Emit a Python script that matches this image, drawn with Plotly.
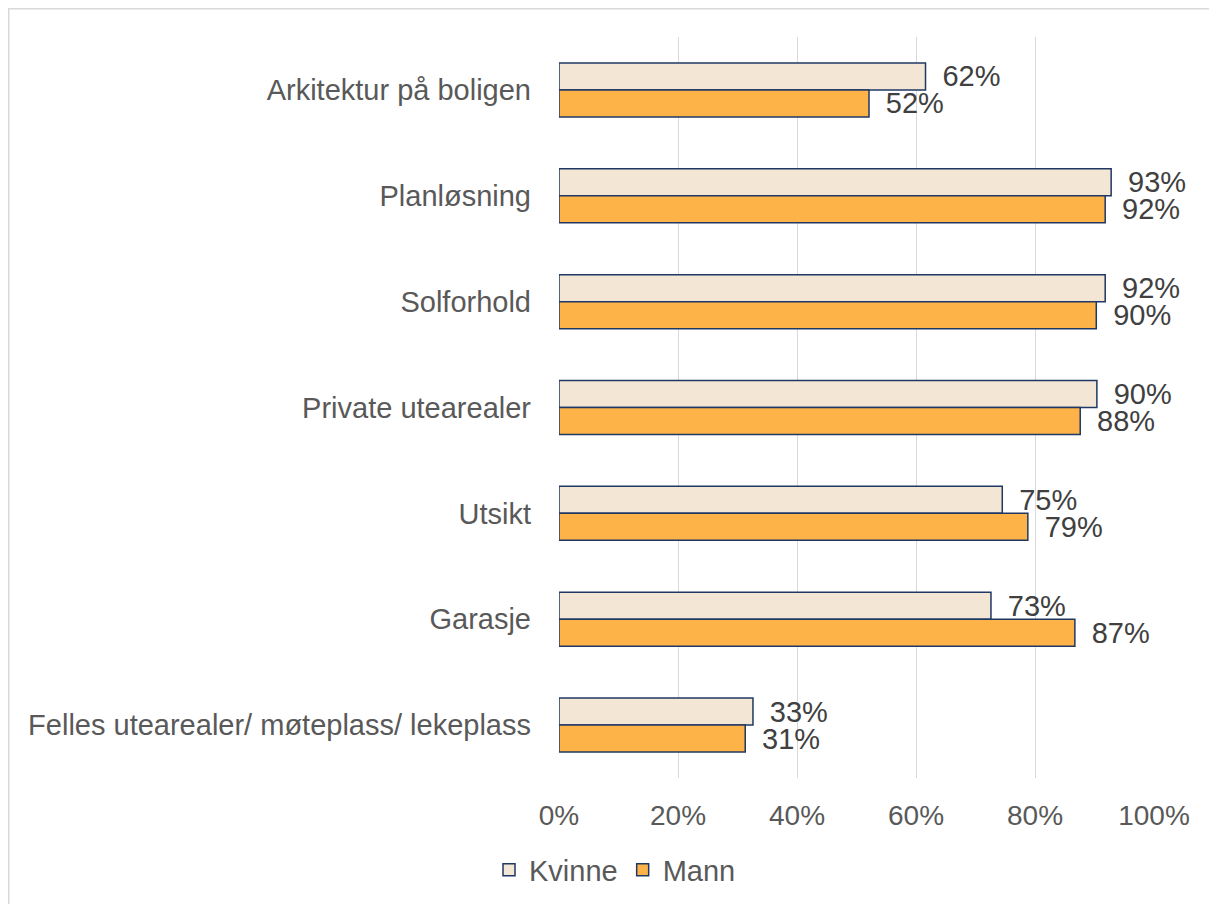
import plotly.graph_objects as go

categories = ["Arkitektur på boligen", "Planløsning", "Solforhold", "Private utearealer",
              "Utsikt", "Garasje", "Felles utearealer/ møteplass/ lekeplass"]
kvinne = [0.616, 0.928, 0.918, 0.904, 0.745, 0.726, 0.326]
mann = [0.521, 0.918, 0.903, 0.876, 0.788, 0.867, 0.313]
kvinne_labels = ["62%", "93%", "92%", "90%", "75%", "73%", "33%"]
mann_labels = ["52%", "92%", "90%", "88%", "79%", "87%", "31%"]
x_ticks = [0, 0.2, 0.4, 0.6, 0.8, 1.0]
x_ticklabels = ["0%", "20%", "40%", "60%", "80%", "100%"]

W, H = 1217, 904
# plot area in figure pixels (page shows figure offset by body margin)
L, R, T, B = 551, 1146, 29, 770

font_family = "Liberation Sans, Arial, sans-serif"
outline = "#1F3864"
pad = " \u2009"

fig = go.Figure()
fig.add_trace(go.Bar(
    name="Kvinne", y=categories, x=kvinne, orientation="h",
    marker=dict(color="#F3E6D4", line=dict(color=outline, width=1.5)),
    text=[pad + t for t in kvinne_labels], textposition="outside",
    constraintext="none",
    textfont=dict(size=29, color="#404040", family=font_family),
    cliponaxis=False, hoverinfo="x+y",
))
fig.add_trace(go.Bar(
    name="Mann", y=categories, x=mann, orientation="h",
    marker=dict(color="#FDB347", line=dict(color=outline, width=1.5)),
    text=[pad + t for t in mann_labels], textposition="outside",
    constraintext="none",
    textfont=dict(size=29, color="#404040", family=font_family),
    cliponaxis=False, hoverinfo="x+y",
))

pw = R - L
ph = B - T

def px_x(p):
    return (p - L) / pw

def px_y(p):
    return 1 - (p - T) / ph

fig.update_layout(
    width=W, height=H,
    margin=dict(l=L, r=W - R, t=T, b=H - B, pad=0),
    plot_bgcolor="white", paper_bgcolor="white",
    barmode="group", bargap=0.49, bargroupgap=0,
    font=dict(family=font_family, size=29, color="#595959"),
    xaxis=dict(range=[0, 1], tickvals=x_ticks, ticktext=x_ticklabels,
               showgrid=True, gridcolor="#D9D9D9", gridwidth=1,
               zeroline=False, showline=False, ticks="",
               ticklabelstandoff=18,
               tickfont=dict(size=28, color="#595959")),
    yaxis=dict(autorange="reversed", showgrid=False, showline=False, ticks="",
               ticklabelstandoff=27, tickfont=dict(size=29, color="#595959")),
    showlegend=True,
    legend=dict(orientation="h", x=px_x(607), xanchor="center",
                y=px_y(862), yanchor="middle",
                font=dict(size=29, color="#595959"),
                itemwidth=30, traceorder="normal", bgcolor="rgba(0,0,0,0)"),
    shapes=[dict(type="rect", xref="paper", yref="paper",
                 x0=px_x(0.5), x1=px_x(1300), y0=px_y(1000), y1=px_y(0.5),
                 line=dict(color="#D9D9D9", width=2), layer="below")],
)

fig.write_html("out.html")
